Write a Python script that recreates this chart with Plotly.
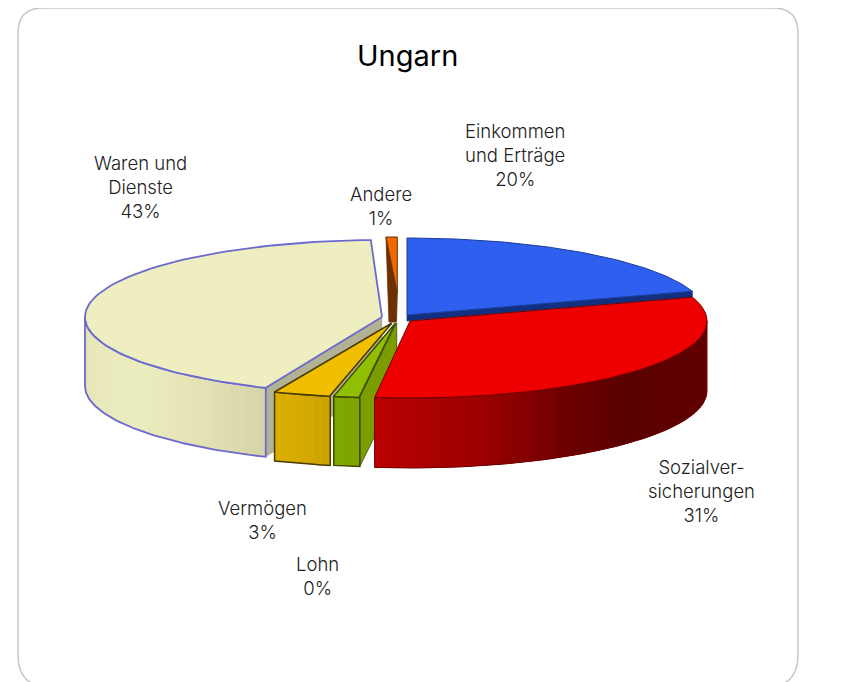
import numpy as np
import plotly.graph_objects as go

# ---- data ----
categories = ["Einkommen und Erträge", "Sozialversicherungen", "Lohn", "Vermögen", "Waren und Dienste", "Andere"]
values = [20.0, 31.9, 1.4, 3.1, 43.0, 0.6]
label_lines = ["Einkommen<br>und Erträge", "Sozialver-<br>sicherungen", "Lohn", "Vermögen", "Waren und<br>Dienste", "Andere"]
label_pcts = ["20%", "31%", "0%", "3%", "43%", "1%"]
title_text = "Ungarn"

# ---- styling / projection of the tilted pie (page pixels) ----
FONT = "Inter"
geometry = {  # centre x, centre y, radius x, radius y, extrusion
    0: (407, 315, 300, 77, 6),
    1: (410, 321, 297, 77, 70),
    2: (395.5, 323, 300, 75, 69),
    3: (392, 323, 300, 75, 69),
    4: (382, 317, 297, 77, 69),
    5: (397.3, 293, 300, 56, 0),
}
top_col = ["#2f5fee", "#ee0000", "#90be00", "#f0c000", "#eeeec0", "#ee6a00"]
edge_col = ["#1c3c9a", "#6e0000", "#3e4a00", "#4a3c00", "#6a6ad0", "#6e3000"]
cut_col = ["#12307f", None, "#7a9e00", None, "#b4b294", "#6e3000"]
side_stops = {
    1: [(90, "#640000"), (135, "#5a0000"), (150, "#700000"), (165, "#9a0000"), (187, "#bb0000")],
    2: [(186.8, "#7ea400"), (192, "#80a600")],
    3: [(191.8, "#c9a000"), (197, "#d6aa00"), (203, "#dcb000")],
    4: [(203, "#d6d4a6"), (215, "#e2e1b3"), (235, "#ecedbf"), (270, "#e4e4b6")],
}
edge_width = [1.0, 1.0, 1.5, 1.5, 1.8, 1.0]
label_pos = {0: (515, 155), 1: (701, 491), 2: (317, 576), 3: (262, 520), 4: (140, 187), 5: (381, 206)}

fig = go.Figure()


def poly(xs, ys, fill, line=None, width=1.0):
    fig.add_trace(go.Scatter(
        x=list(xs), y=list(ys), mode="lines", fill="toself" if fill else None,
        fillcolor=fill, line=dict(color=line or fill or "rgba(0,0,0,0)", width=width),
        hoverinfo="skip", showlegend=False))


def h2rgb(c):
    return np.array([int(c[i:i + 2], 16) for i in (1, 3, 5)], float)


def stop_color(stops, t):
    ts = [s[0] for s in stops]
    cs = np.array([h2rgb(s[1]) for s in stops])
    rgb = [np.interp(t, ts, cs[:, i]) for i in range(3)]
    return "#%02x%02x%02x" % tuple(int(round(v)) for v in rgb)


# sweep angles follow the values, clockwise from twelve o'clock
edges = np.concatenate([[0], np.cumsum(values)]) / sum(values) * 360.0


def ell(i, t):
    cx, cy, rx, ry, _ = geometry[i]
    r = np.radians(t)
    return cx + rx * np.sin(r), cy - ry * np.cos(r)


def draw_slice(i):
    cx, cy, rx, ry, h = geometry[i]
    w = edge_width[i]
    a, b = edges[i], edges[i + 1]
    ts = np.linspace(a, b, 80)
    ex, ey = ell(i, ts)
    # radial cut face
    if i == 5:
        poly([ex[0], ex[0] + 3, cx - 0.8, cx, ex[0]], [ey[0], ey[0] + 85, ey[0] + 85, cy, ey[0]], cut_col[i], edge_col[i], 0.8)
    elif i == 4:
        x1, y1 = ex[0], ey[0]
        poly([cx, x1, x1, cx, cx], [cy, y1, y1 + h, cy + h, cy], cut_col[i], cut_col[i], 0.5)
    elif i == 2:
        x1, y1 = ex[0], ey[0]
        poly([cx + 1.2, x1, x1, cx + 1.2, cx + 1.2], [cy, y1, y1 + h, cy + h, cy], cut_col[i], edge_col[i], 0.8)
    elif i == 0:
        x1, y1 = ex[-1], ey[-1]
        poly([cx, x1, x1, cx, cx], [cy, y1, y1 + h, cy + h, cy], cut_col[i], edge_col[i], 0.8)
    # outer wall as shaded strips, each overlapped by the next one (front half only)
    if i in side_stops:
        lo, hi = max(a, 90), min(b, 270)
        strip_edges = np.linspace(lo, hi, max(int((hi - lo) / 1.5), 4) + 1)
        for k in range(len(strip_edges) - 1):
            s0 = strip_edges[k]
            s1 = strip_edges[min(k + 2, len(strip_edges) - 1)]
            st = np.linspace(s0, s1, 5)
            x, y = ell(i, st)
            col = stop_color(side_stops[i], (strip_edges[k] + strip_edges[k + 1]) / 2)
            fig.add_trace(go.Scatter(
                x=list(x) + list(x[::-1]) + [x[0]], y=list(y) + list(y[::-1] + h) + [y[0]],
                mode="lines", fill="toself", fillcolor=col, line=dict(width=0, color=col),
                hoverinfo="skip", showlegend=False))
        wt = np.linspace(lo, hi, 80)
        wx, wy = ell(i, wt)
        poly(list(wx) + list(wx[::-1]) + [wx[0]], list(wy) + list(wy[::-1] + h) + [wy[0]], None, edge_col[i], w)
    # top face
    poly([cx] + list(ex) + [cx], [cy] + list(ey) + [cy], top_col[i], edge_col[i], w)


for idx in [5, 0, 4, 3, 2, 1]:
    draw_slice(idx)

annotations = [dict(x=407, y=55, text=title_text, showarrow=False, xref="x", yref="y",
                    font=dict(family=FONT, size=29, color="#000000"))]
for i, (line, pct) in enumerate(zip(label_lines, label_pcts)):
    x, y = label_pos[i]
    annotations.append(dict(x=x, y=y, text=f"{line}<br>{pct}", showarrow=False, xref="x", yref="y",
                            align="center", font=dict(family=FONT, size=18.5, color="#222222", weight=300)))

# rounded card frame
card = ("M 18 33 Q 18 8 43 8 L 773 8 Q 798 8 798 33 L 798 655 Q 798 687 766 687 "
        "L 50 687 Q 18 687 18 655 Z")

# the page body has an 8 px margin, so the plot area starts at (8, 8) of the window
fig.update_layout(
    width=851, height=674, margin=dict(l=0, r=0, t=0, b=0),
    paper_bgcolor="white", plot_bgcolor="white", showlegend=False,
    xaxis=dict(range=[8, 859], visible=False, fixedrange=True),
    yaxis=dict(range=[682, 8], visible=False, fixedrange=True),
    annotations=annotations,
    shapes=[dict(type="path", path=card, line=dict(color="#c8c8c8", width=1.5), layer="below")],
)

fig.write_html("out.html")
